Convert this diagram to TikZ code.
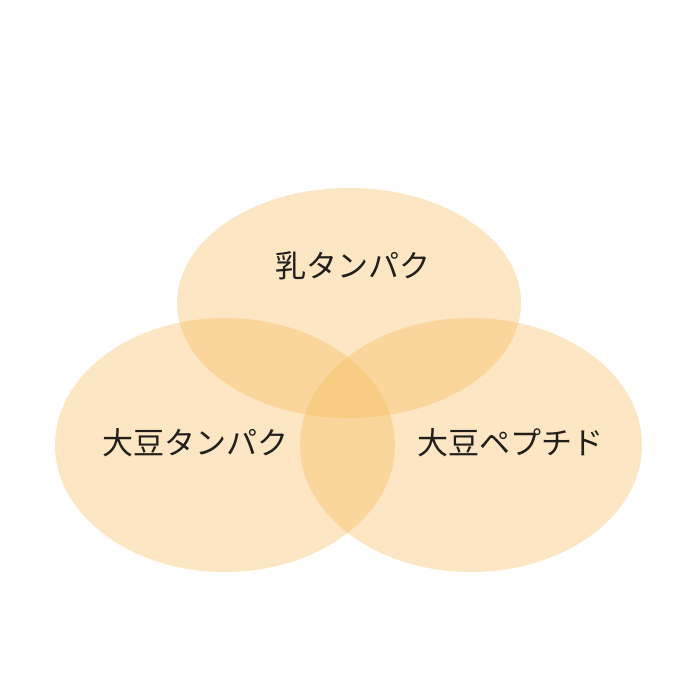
\documentclass[tikz,border=0pt]{standalone}
\usepackage{fontspec}
\setmainfont{Noto Sans CJK JP}
\definecolor{venn}{RGB}{247,186,85}
\definecolor{txt}{RGB}{34,30,28}
\tikzset{
  set/.style={fill=venn, fill opacity=0.35, draw=none},
  lbl/.style={text=txt, font=\fontsize{31}{34}\selectfont, inner sep=0pt}
}
\begin{document}
\begin{tikzpicture}[x=1pt,y=-1pt]
\useasboundingbox[fill=white] (0,0) rectangle (700,700);
\fill[set] (349,303) ellipse [x radius=172, y radius=115];
\fill[set] (225,445) ellipse [x radius=170, y radius=127];
\fill[set] (471,445) ellipse [x radius=171, y radius=127];
\node[lbl] (milk) at (353,266) {乳タンパク};
\node[lbl] (soyp) at (195,443) {大豆タンパク};
\node[lbl] (soypep) at (510,443) {大豆ペプチド};
\end{tikzpicture}
\end{document}
